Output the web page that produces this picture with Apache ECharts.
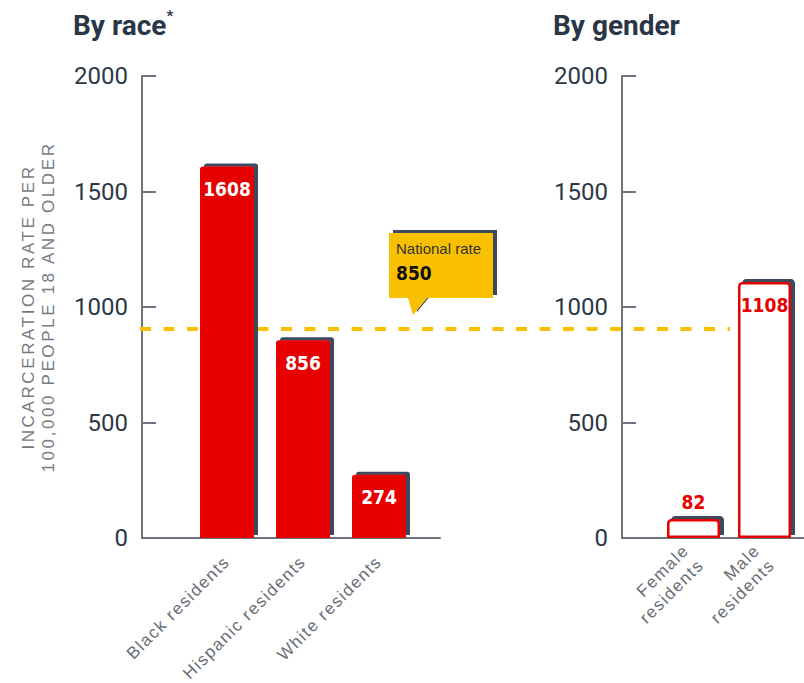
<!DOCTYPE html>
<html><head><meta charset="utf-8">
<script src="https://cdn.jsdelivr.net/npm/echarts@6/dist/echarts.min.js"></script>
<style>
html,body{margin:0;padding:0;background:#fff;}
#main{width:804px;height:683px;}
#main text[style*="TrackCat"]{letter-spacing:1.5px;}
#main text[style*="TrackName"]{letter-spacing:2.6px;}
</style></head><body><div id="main"></div>
<script>
// ---- data ----
const titles = ['By race', 'By gender'];
const raceCategories = ['Black residents', 'Hispanic residents', 'White residents'];
const raceValues = [1608, 856, 274];
const genderCategories = ['Female\nresidents', 'Male\nresidents'];
const genderValues = [82, 1108];
const yTicks = [0, 500, 1000, 1500, 2000];
const yAxisName = ['INCARCERATION RATE PER', '100,000 PEOPLE 18 AND OLDER'];
const nationalRateLabel = 'National rate';
const nationalRate = 850;        // value printed in the callout
const nationalLineLevel = 905;   // level at which the dashed line sits in the picture
const calloutAt = 0.4627;        // position of the callout along the dashed line (0..1)

// ---- styles ----
const RED = '#e60000';
const YELLOW = '#f9c000';
const SHADOW = '#3d4a5c';
const AXIS = '#6e7480';
const COND = '"DejaVu Sans Condensed", "Liberation Sans Narrow", "DejaVu Sans", sans-serif';
const CAT_FONT = 'TrackCat, "Liberation Sans", Arial, sans-serif';
const NAME_FONT = 'TrackName, "Liberation Sans", Arial, sans-serif';

const TOP = 76, BOTTOM = 145;
const yMin = yTicks[0], yMax = yTicks[yTicks.length - 1], yStep = yTicks[1] - yTicks[0];

function axisGridY(gridIndex, withName) {
  return {
    type: 'value', gridIndex, min: yMin, max: yMax, interval: yStep,
    axisLine: {show: true, lineStyle: {color: AXIS, width: 2}},
    axisTick: {show: true, inside: true, length: 14, lineStyle: {color: AXIS, width: 2}},
    axisLabel: {show: true, color: '#2e3845', fontSize: 24, fontFamily: 'Roboto, sans-serif', margin: 14,
      formatter: v => String(v)},
    splitLine: {show: false},
    name: withName ? yAxisName.join('\n') : '',
    nameLocation: 'middle', nameRotate: 90, nameGap: 84,
    nameTextStyle: {color: '#757b84', fontSize: 17, fontFamily: NAME_FONT, lineHeight: 20}
  };
}
function hiddenY(gridIndex) {
  return {type: 'value', gridIndex, min: yMin, max: yMax, interval: yStep, show: false};
}
function axisGridX(gridIndex) {
  return {
    type: 'category', gridIndex, data: [''],
    axisLine: {show: true, lineStyle: {color: AXIS, width: 2}},
    axisTick: {show: false}, axisLabel: {show: false}, splitLine: {show: false}
  };
}
function barX(gridIndex, cats, margin) {
  return {
    type: 'category', gridIndex, data: cats,
    axisLine: {show: false}, axisTick: {show: false}, splitLine: {show: false},
    axisLabel: {show: true, interval: 0, rotate: 45, margin: margin, color: '#696d74',
      fontSize: 17, fontFamily: CAT_FONT, lineHeight: 21}
  };
}
const barShadow = {shadowColor: SHADOW, shadowBlur: 0, shadowOffsetX: 4, shadowOffsetY: -3};

const option = {
  animation: false,
  backgroundColor: '#fff',
  title: [
    {text: titles[0] + '{s|*}', left: 68, top: 3,
     textStyle: {color: '#2a3647', fontSize: 28, fontWeight: 'bold', fontFamily: 'Roboto, sans-serif', lineHeight: 34,
       rich: {s: {color: '#2a3647', fontSize: 15, fontWeight: 'bold', fontFamily: 'Roboto, sans-serif', verticalAlign: 'top', lineHeight: 18}}}},
    {text: titles[1], left: 548, top: 3,
     textStyle: {color: '#2a3647', fontSize: 28, fontWeight: 'bold', fontFamily: 'Roboto, sans-serif', lineHeight: 34}}
  ],
  grid: [
    {left: 142, right: 804 - 440, top: TOP, bottom: BOTTOM},   // race axes
    {left: 189, width: 228, top: TOP, bottom: BOTTOM},         // race bars
    {left: 622, right: 0, top: TOP, bottom: BOTTOM},           // gender axes
    {left: 658, width: 142, top: TOP, bottom: BOTTOM},         // gender bars
    {left: 140, right: 804 - 730, top: TOP, bottom: BOTTOM}    // national line
  ],
  xAxis: [
    axisGridX(0),
    barX(1, raceCategories, 21),
    axisGridX(2),
    barX(3, genderCategories, 17),
    {type: 'value', gridIndex: 4, min: 0, max: 1, show: false}
  ],
  yAxis: [
    axisGridY(0, true),
    hiddenY(1),
    axisGridY(2, false),
    hiddenY(3),
    hiddenY(4)
  ],
  series: [
    {
      type: 'line', xAxisIndex: 4, yAxisIndex: 4, z: 1, silent: true, symbol: 'none',
      data: [[0, nationalLineLevel], [1, nationalLineLevel]],
      lineStyle: {color: YELLOW, width: 4, type: [11, 12.5]},
      markPoint: {
        silent: true,
        symbol: 'path://M0,0 L104,0 L104,65 L38,65 L24,82 L19,65 L0,65 Z',
        symbolSize: [104, 82], symbolOffset: [28, -55],
        itemStyle: {color: YELLOW, shadowColor: SHADOW, shadowBlur: 0, shadowOffsetX: 4, shadowOffsetY: -3},
        label: {
          show: true, position: [7, 5], align: 'left', verticalAlign: 'top',
          formatter: '{a|' + nationalRateLabel + '}\n{b|' + nationalRate + '}',
          rich: {
            a: {fontSize: 15, color: '#333', fontFamily: '"Liberation Sans", Arial, sans-serif', lineHeight: 22},
            b: {fontSize: 19, color: '#111', fontWeight: 'bold', fontFamily: COND, lineHeight: 26}
          }
        },
        data: [{coord: [calloutAt, nationalLineLevel]}]
      }
    },
    {
      type: 'bar', xAxisIndex: 1, yAxisIndex: 1, z: 3, barWidth: 54,
      data: raceValues,
      itemStyle: Object.assign({color: RED, borderRadius: [3, 3, 0, 0]}, barShadow),
      label: {show: true, position: 'insideTop', distance: 13, color: '#fff', fontSize: 19,
        fontWeight: 'bold', fontFamily: COND}
    },
    {
      type: 'bar', xAxisIndex: 3, yAxisIndex: 3, z: 3, barWidth: 53,
      data: genderValues.map(v => v < 300
        ? {value: v, label: {position: 'top', distance: 8}}
        : {value: v}),
      itemStyle: Object.assign({color: '#fff', borderColor: RED, borderWidth: 2.5, borderRadius: [3, 3, 0, 0]}, barShadow),
      label: {show: true, position: 'insideTop', distance: 13, color: RED, fontSize: 19,
        fontWeight: 'bold', fontFamily: COND}
    }
  ]
};

const chart = echarts.init(document.getElementById('main'), null, {renderer: 'svg'});
chart.setOption(option);
</script></body></html>
